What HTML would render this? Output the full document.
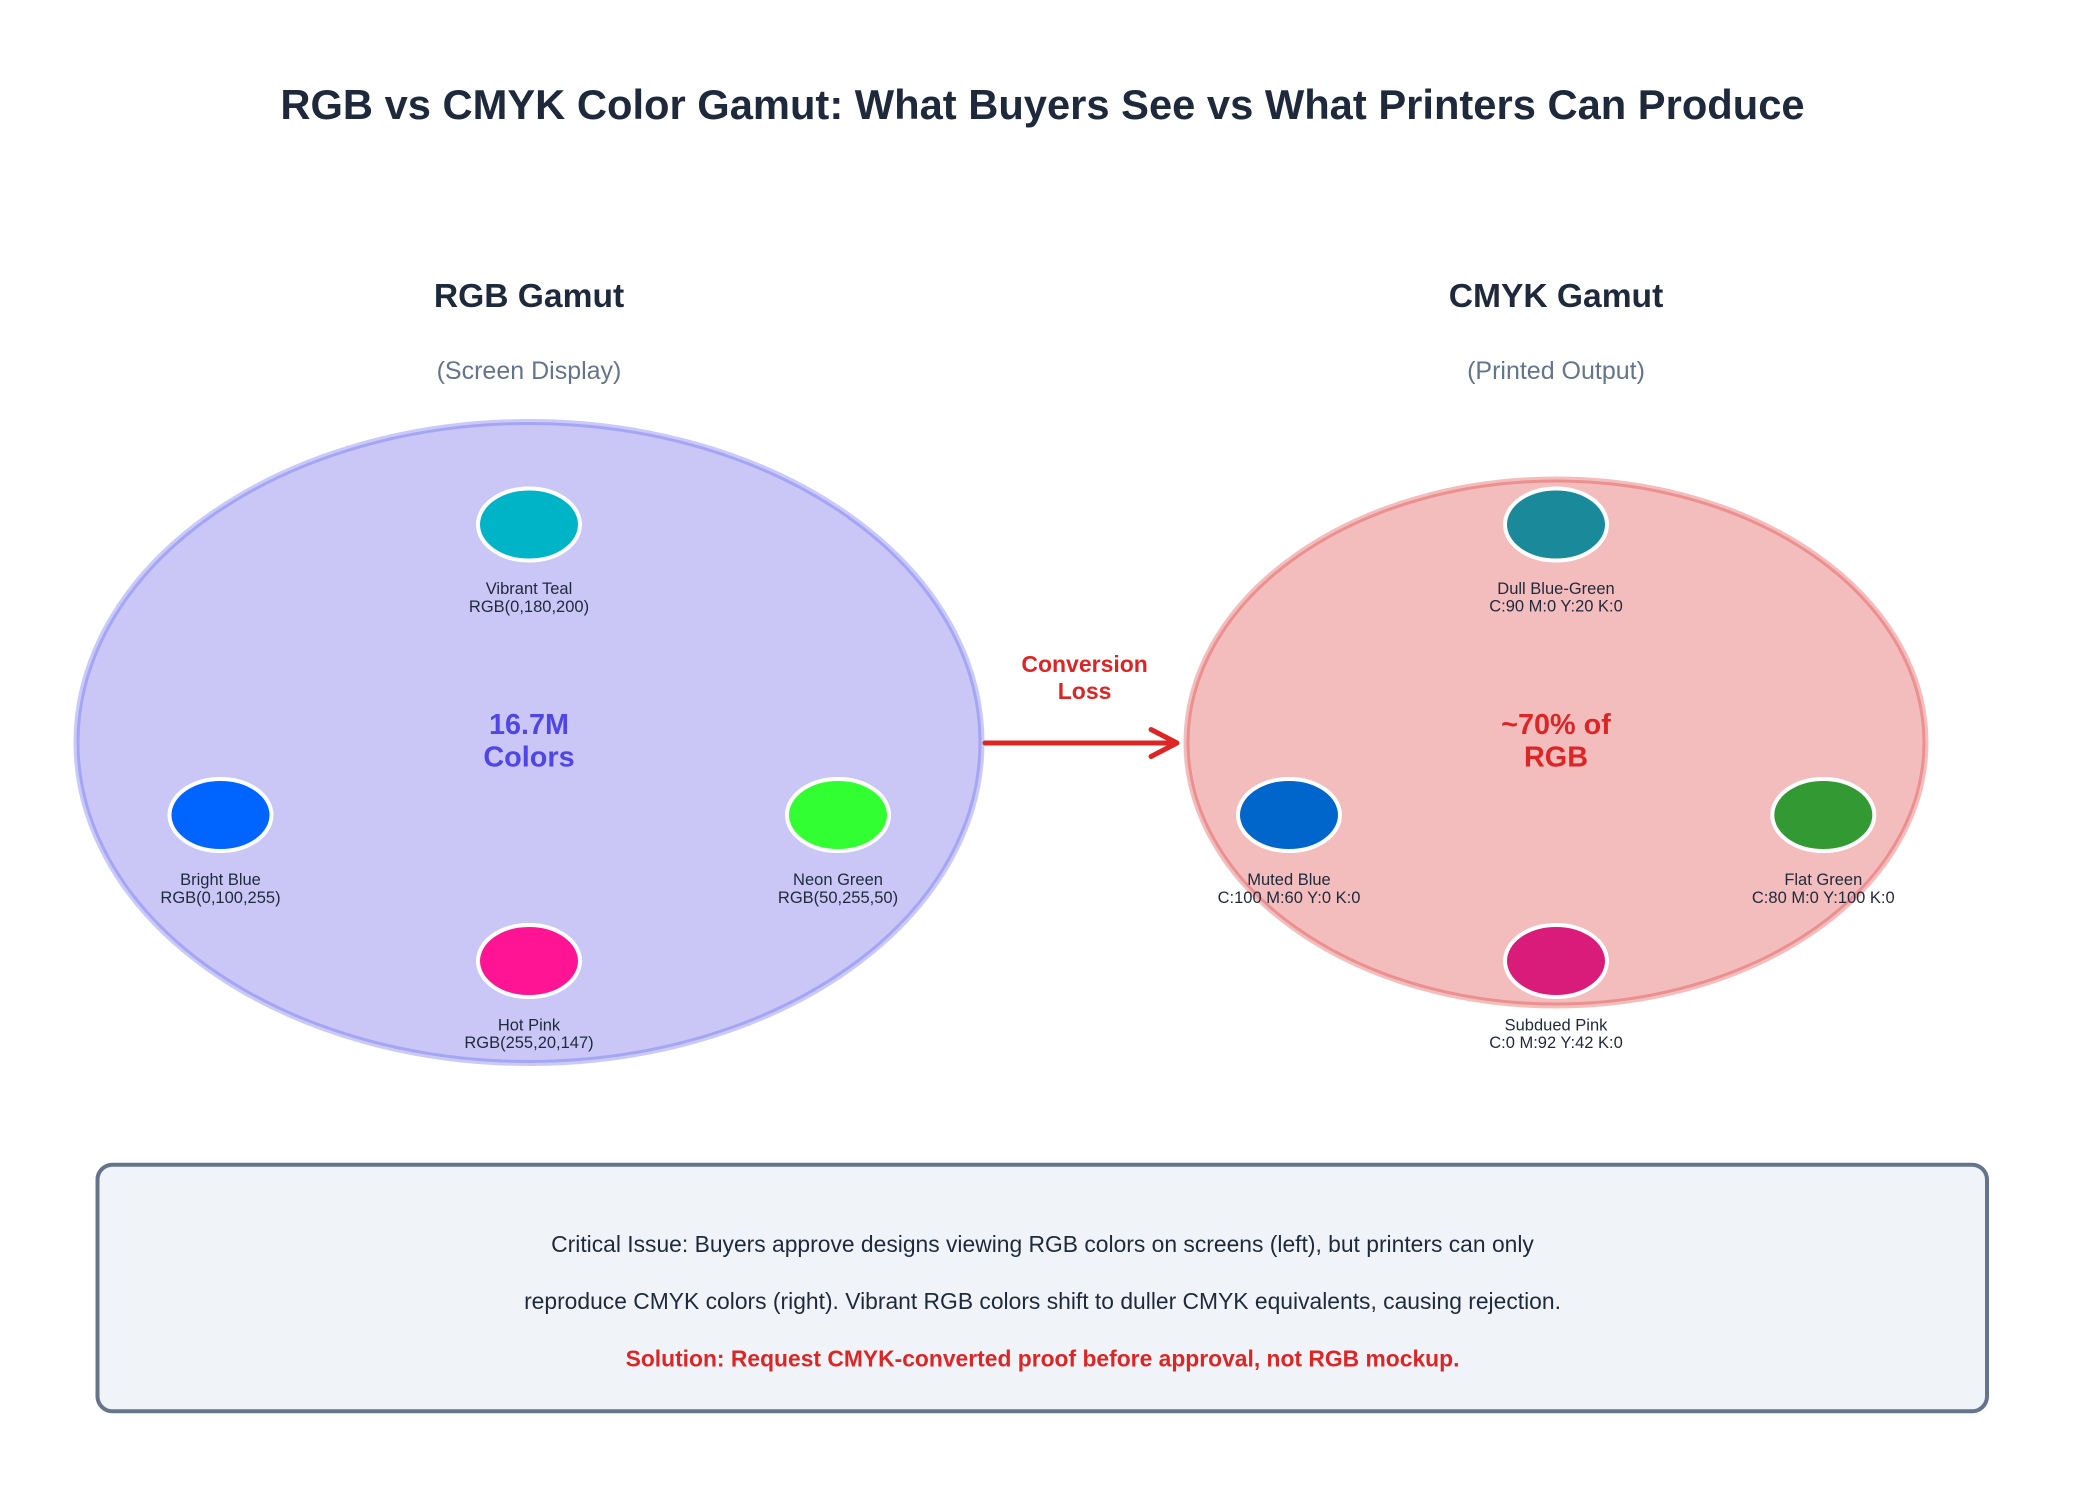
<!DOCTYPE html>
<html>
<head>
<meta charset="utf-8">
<style>
  html, body { margin: 0; padding: 0; background: #ffffff; }
  svg { display: block; }
  text { font-family: "Liberation Sans", Arial, sans-serif; }
</style>
</head>
<body>
<svg width="2085" height="1485" viewBox="0 0 2085 1485" xmlns="http://www.w3.org/2000/svg">
  <rect x="0" y="0" width="2085" height="1485" fill="#ffffff"/>

  <!-- Title -->
  <text x="1042.5" y="119" text-anchor="middle" font-size="41.7" font-weight="bold" fill="#1e293b">RGB vs CMYK Color Gamut: What Buyers See vs What Printers Can Produce</text>

  <!-- Headings -->
  <text x="529" y="307" text-anchor="middle" font-size="33.6" font-weight="bold" fill="#1e293b">RGB Gamut</text>
  <text x="529" y="379" text-anchor="middle" font-size="25" fill="#64748b">(Screen Display)</text>
  <text x="1556" y="307" text-anchor="middle" font-size="33.6" font-weight="bold" fill="#1e293b">CMYK Gamut</text>
  <text x="1556" y="379" text-anchor="middle" font-size="25" fill="#64748b">(Printed Output)</text>

  <!-- Left ellipse -->
  <ellipse cx="529" cy="742.5" rx="452.5" ry="320.5" fill="#4f46e5" fill-opacity="0.3" stroke="#6366f1" stroke-opacity="0.35" stroke-width="6"/>
  <!-- Right ellipse -->
  <ellipse cx="1556" cy="742.5" rx="369.5" ry="263" fill="#dc2626" fill-opacity="0.3" stroke="#dc2626" stroke-opacity="0.3" stroke-width="6"/>

  <!-- Left swatches -->
  <ellipse cx="529" cy="524.5" rx="51" ry="36" fill="rgb(0,180,200)" stroke="#ffffff" stroke-width="4"/>
  <ellipse cx="220.5" cy="815" rx="51" ry="36" fill="rgb(0,100,255)" stroke="#ffffff" stroke-width="4"/>
  <ellipse cx="838" cy="815" rx="51" ry="36" fill="rgb(50,255,50)" stroke="#ffffff" stroke-width="4"/>
  <ellipse cx="529" cy="961" rx="51" ry="36" fill="rgb(255,20,147)" stroke="#ffffff" stroke-width="4"/>

  <g font-size="16.5" fill="#1e293b" text-anchor="middle">
    <text x="529" y="594">Vibrant Teal</text>
    <text x="529" y="612">RGB(0,180,200)</text>
    <text x="220.5" y="885">Bright Blue</text>
    <text x="220.5" y="903">RGB(0,100,255)</text>
    <text x="838" y="885">Neon Green</text>
    <text x="838" y="903">RGB(50,255,50)</text>
    <text x="529" y="1030.7">Hot Pink</text>
    <text x="529" y="1048">RGB(255,20,147)</text>
  </g>

  <text x="529" y="734" text-anchor="middle" font-size="28.8" font-weight="bold" fill="#4f46e5">16.7M</text>
  <text x="529" y="766.7" text-anchor="middle" font-size="28.8" font-weight="bold" fill="#4f46e5">Colors</text>

  <!-- Right swatches -->
  <ellipse cx="1556" cy="524.5" rx="51" ry="36" fill="#1a8a9a" stroke="#ffffff" stroke-width="4"/>
  <ellipse cx="1289" cy="815" rx="51" ry="36" fill="#0066cc" stroke="#ffffff" stroke-width="4"/>
  <ellipse cx="1823.3" cy="815" rx="51" ry="36" fill="#339933" stroke="#ffffff" stroke-width="4"/>
  <ellipse cx="1556" cy="961" rx="51" ry="36" fill="#d91c7a" stroke="#ffffff" stroke-width="4"/>

  <g font-size="16.5" fill="#1e293b" text-anchor="middle">
    <text x="1556" y="594">Dull Blue-Green</text>
    <text x="1556" y="611.7">C:90 M:0 Y:20 K:0</text>
    <text x="1289" y="885">Muted Blue</text>
    <text x="1289" y="903">C:100 M:60 Y:0 K:0</text>
    <text x="1823.3" y="885">Flat Green</text>
    <text x="1823.3" y="903">C:80 M:0 Y:100 K:0</text>
    <text x="1556" y="1030.7">Subdued Pink</text>
    <text x="1556" y="1048">C:0 M:92 Y:42 K:0</text>
  </g>

  <text x="1556" y="734" text-anchor="middle" font-size="28.8" font-weight="bold" fill="#dc2626">~70% of</text>
  <text x="1556" y="766.7" text-anchor="middle" font-size="28.8" font-weight="bold" fill="#dc2626">RGB</text>

  <!-- Arrow -->
  <line x1="985" y1="743" x2="1176" y2="743" stroke="#dc2626" stroke-width="5" stroke-linecap="round"/>
  <polyline points="1151,729.5 1177,743 1151,756.5" fill="none" stroke="#dc2626" stroke-width="5" stroke-linecap="round" stroke-linejoin="round"/>
  <text x="1084.6" y="672" text-anchor="middle" font-size="23" font-weight="bold" fill="#dc2626">Conversion</text>
  <text x="1084.6" y="699" text-anchor="middle" font-size="23" font-weight="bold" fill="#dc2626">Loss</text>

  <!-- Bottom box -->
  <rect x="97.5" y="1164.7" width="1889.5" height="246.6" rx="15" ry="15" fill="#f0f4f9" stroke="#64748b" stroke-width="4"/>
  <text x="1042.5" y="1252" text-anchor="middle" font-size="22.85" fill="#1e293b">Critical Issue: Buyers approve designs viewing RGB colors on screens (left), but printers can only</text>
  <text x="1042.5" y="1309" text-anchor="middle" font-size="22.85" fill="#1e293b">reproduce CMYK colors (right). Vibrant RGB colors shift to duller CMYK equivalents, causing rejection.</text>
  <text x="1042.5" y="1366.5" text-anchor="middle" font-size="22.85" font-weight="bold" fill="#dc2626">Solution: Request CMYK-converted proof before approval, not RGB mockup.</text>
</svg>
</body>
</html>
